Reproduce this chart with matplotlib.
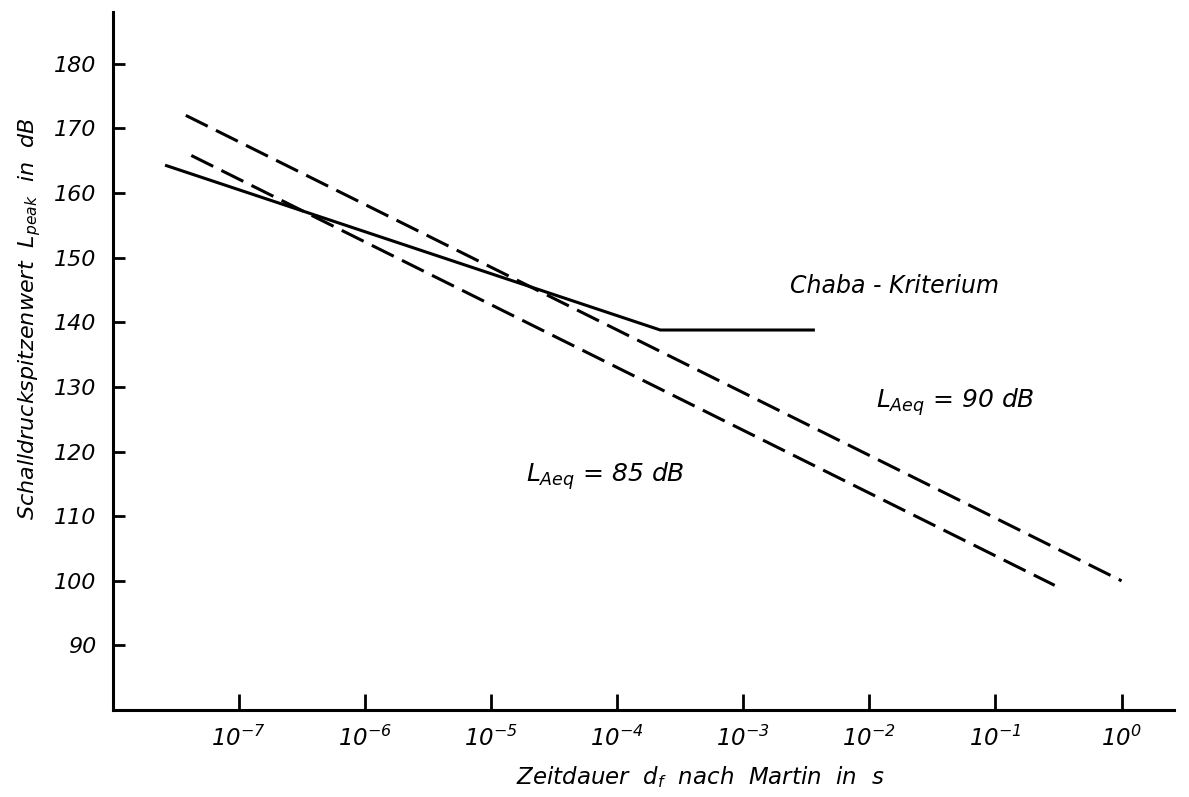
import matplotlib
matplotlib.use('Agg')
import matplotlib.pyplot as plt

# Werte (Zeit in s, Pegel in dB)
chaba_t = [2.6e-8, 2.2e-4, 3.7e-3]
chaba_l = [164.3, 138.8, 138.8]

laeq90_t = [3.8e-8, 1.0]
laeq90_l = [172.0, 100.0]

laeq85_t = [4.2e-8, 0.295]
laeq85_l = [165.8, 99.3]

x_ticks = [1e-7, 1e-6, 1e-5, 1e-4, 1e-3, 1e-2, 1e-1, 1e0]
x_ticklabels = [r'$10^{-7}$', r'$10^{-6}$', r'$10^{-5}$', r'$10^{-4}$',
                r'$10^{-3}$', r'$10^{-2}$', r'$10^{-1}$', r'$10^{0}$']
y_ticks = [90, 100, 110, 120, 130, 140, 150, 160, 170, 180]

plt.rcParams['font.family'] = ['DejaVu Sans']
plt.rcParams['font.style'] = 'italic'
plt.rcParams['mathtext.fontset'] = 'dejavusans'
plt.rcParams['mathtext.default'] = 'it'

fig = plt.figure(figsize=(11.89, 7.97), dpi=100)
ax = fig.add_axes([0.0948, 0.109, 0.893, 0.876])

lw = 2.2
ax.plot(chaba_t, chaba_l, color='black', lw=lw, solid_capstyle='butt')
ax.plot(laeq90_t, laeq90_l, color='black', lw=lw, dashes=(8, 3))
ax.plot(laeq85_t, laeq85_l, color='black', lw=lw, dashes=(8, 3))

ax.set_xscale('log')
ax.set_xlim(1e-8, 10 ** 0.42)
ax.set_ylim(80, 188)

ax.set_xticks(x_ticks)
ax.set_xticklabels(x_ticklabels, fontsize=16.5)
ax.minorticks_off()
ax.set_yticks(y_ticks)
ax.set_yticklabels([str(v) for v in y_ticks], fontsize=16, style='italic')

ax.tick_params(axis='x', direction='in', length=11.5, width=2, pad=11)
ax.tick_params(axis='y', direction='in', length=8.5, width=2, pad=12)

for side in ['top', 'right']:
    ax.spines[side].set_visible(False)
for side in ['left', 'bottom']:
    ax.spines[side].set_linewidth(2.2)

ax.set_xlabel(r'Zeitdauer  $d_f$  nach  Martin  in  s', fontsize=16.5)
ax.xaxis.set_label_coords(0.553, -0.077)
ax.set_ylabel(r'Schalldruckspitzenwert  $L_{peak}$  in  dB', fontsize=16)
ax.yaxis.set_label_coords(-0.066, 0.56)

ax.text(10 ** -2.63, 145.6, 'Chaba - Kriterium', fontsize=17, ha='left', va='center')
ax.text(10 ** -1.95, 127.6, r'$L_{Aeq}$ = 90 dB', fontsize=18, ha='left', va='center')
ax.text(10 ** -4.72, 116.2, r'$L_{Aeq}$ = 85 dB', fontsize=18, ha='left', va='center')

fig.savefig('out.png', dpi=100)
